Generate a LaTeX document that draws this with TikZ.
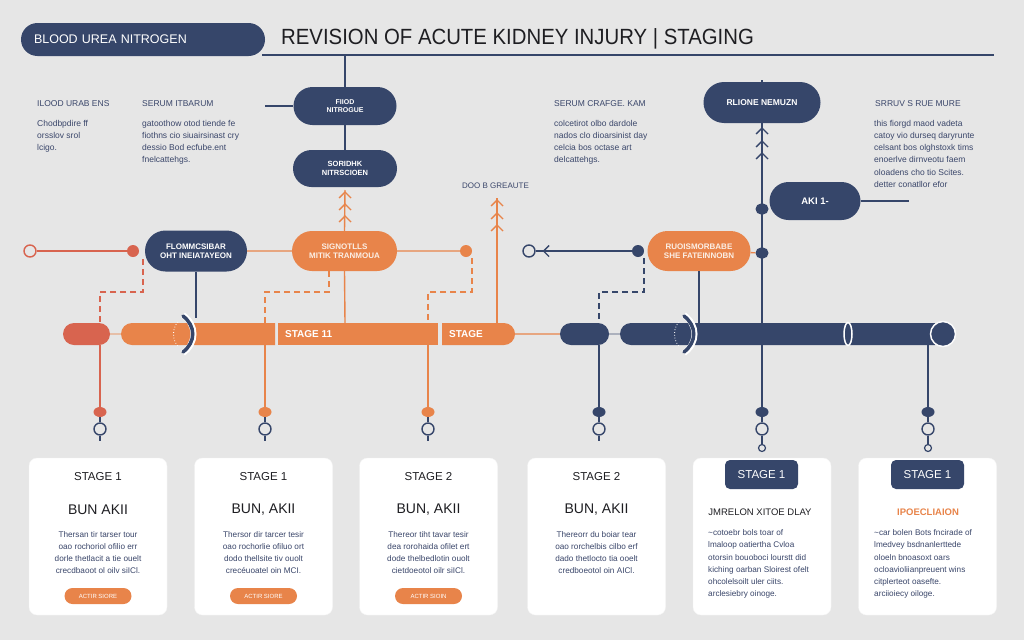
\documentclass[tikz,border=0pt]{standalone}
\usepackage{fontspec}
\usepackage{graphicx}
\setmainfont{Liberation Sans}
\usetikzlibrary{shapes.misc,shapes.geometric}
\definecolor{navy}{HTML}{36466A}
\definecolor{orng}{HTML}{E8844A}
\definecolor{redc}{HTML}{D8644F}
\definecolor{bgc}{HTML}{E6E6E6}
\definecolor{txtc}{HTML}{3A466A}
\definecolor{darkc}{HTML}{1E1E22}
\definecolor{cream}{HTML}{FBEFE6}
\newcommand\fsz[2]{\fontsize{#1}{#2}\selectfont}
\tikzset{
  ln/.style={line width=1.4pt},
  dsh/.style={line width=1.3pt, dash pattern=on 6pt off 4pt},
  pillb/.style={rounded rectangle, inner sep=0pt, align=center, font=\fsz{7.5}{9}\bfseries},
  npill/.style={pillb, fill=navy, text=white},
  opill/.style={pillb, fill=orng, text=cream},
  fdot/.style={circle, inner sep=0pt, minimum size=12pt},
  edot/.style={ellipse, inner sep=0pt, minimum width=13pt, minimum height=10pt},
  rdot/.style={rounded rectangle, inner sep=0pt, minimum width=13pt, minimum height=11pt, fill=navy},
  ocirc/.style={circle, draw=navy, line width=1.4pt, fill=bgc, inner sep=0pt, minimum size=12pt},
  tcirc/.style={circle, draw=navy, line width=1.2pt, fill=bgc, inner sep=0pt, minimum size=7pt},
  seg/.style={inner sep=0pt, minimum height=22pt},
  lab/.style={anchor=west, inner sep=0pt, text=txtc, font=\fsz{8.5}{10}},
  body/.style={anchor=north west, inner sep=0pt, align=left, text=txtc, font=\fsz{8.5}{12.2}},
  card/.style={rectangle, rounded corners=8pt, fill=white, draw=black!4, minimum width=138pt, minimum height=157pt, inner sep=0pt},
  ctitle/.style={inner sep=0pt, text=darkc, font=\fsz{11.5}{13}},
  cbig/.style={inner sep=0pt, text=darkc, font=\fsz{14}{16}},
  cbody/.style={inner sep=0pt, align=center, text=txtc, font=\fsz{8.2}{12}},
  cbodyl/.style={anchor=north west, inner sep=0pt, align=left, text=txtc, font=\fsz{8.2}{12.2}},
  cbtn/.style={rounded rectangle, fill=orng, text=white, inner sep=0pt, minimum width=67pt, minimum height=16pt, font=\fsz{6}{7}},
  chdr/.style={rectangle, rounded corners=5pt, fill=navy, text=white, inner sep=0pt, minimum width=73pt, minimum height=29pt, font=\fsz{11.5}{13}},
  chev/.pic={\draw[ln,#1] (-6,6) -- (0,0) -- (6,6);},
}
\begin{document}
\begin{tikzpicture}[x=1pt,y=-1pt]
\fill[bgc] (0,0) rectangle (1024,640);
\useasboundingbox (0,0) rectangle (1024,640);
% header
\node[rectangle, rounded corners=16.5pt, fill=navy, text=white, minimum width=244pt, minimum height=33pt, text width=218pt, inner xsep=13pt, inner ysep=0pt, align=left, font=\fsz{12.5}{14}] (hdr) at (143,39.5) {BLOOD UREA NITROGEN};
\node[anchor=west, inner sep=0pt, text=darkc, font=\fsz{22}{26}] (title) at (281,38.5) {\scalebox{0.925}[1]{REVISION OF ACUTE KIDNEY INJURY | STAGING}};
\coordinate (tl0) at (262,55);
\coordinate (tl1) at (994,55);
\draw[navy, line width=1.2pt] (tl0) -- (tl1);
% top pills
\node[npill, minimum width=103pt, minimum height=38pt, font=\fsz{7}{8.5}\bfseries] (p1) at (345,106) {FIIOD\\NITROGUE};
\node[npill, minimum width=104pt, minimum height=37pt] (p2) at (345,168.5) {SORIDHK\\NITRSCIOEN};
\coordinate (j1) at (345,55);
\draw[ln,navy] (j1) -- (p1.north);
\draw[ln,navy] (p1.south) -- (p2.north);
\coordinate (fl0) at (265,106);
\draw[ln,navy] (fl0) -- (p1.west);
% labels
\node[lab] (h1) at (37,104) {ILOOD URAB ENS};
\node[body] (b1) at (37,120) {Chodbpdire ff\\orsslov srol\\lcigo.};
\node[lab] (h2) at (142,104) {SERUM ITBARUM};
\node[body] (b2) at (142,120) {gatoothow otod tiende fe\\fiothns cio siuairsinast cry\\dessio Bod ecfube.ent\\fnelcattehgs.};
\node[lab] (h3) at (554,104) {SERUM CRAFGE. KAM};
\node[body] (b3) at (554,120) {colcetirot olbo dardole\\nados clo dioarsinist day\\celcia bos octase art\\delcattehgs.};
\node[lab] (h4) at (875,104) {SRRUV S RUE MURE};
\node[body] (b4) at (874,120) {this fiorgd maod vadeta\\catoy vio durseq daryrunte\\celsant bos olghstoxk tims\\enoerlve dirnveotu faem\\oloadens cho tio Scites.\\detter conatllor efor};
\node[lab, font=\fsz{8}{10}] (dg) at (462,186) {DOO B GREAUTE};
% left row
\node[ocirc, draw=redc] (lo) at (30,251) {};
\node[fdot, fill=redc] (ld) at (133,251) {};
\draw[ln,redc] (lo) -- (ld);
\node[npill, minimum width=102pt, minimum height=41pt, font=\fsz{8}{9.5}\bfseries] (fm) at (196,251) {FLOMMCSIBAR\\OHT INEIATAYEON};
\node[opill, minimum width=105pt, minimum height=40pt, font=\fsz{8}{9.5}\bfseries] (sg) at (344.5,251) {SIGNOTLLS\\MITIK TRANMOUA};
\draw[ln,orng] (fm) -- (sg);
\node[fdot, fill=orng] (od) at (466,251) {};
\draw[ln,orng] (sg) -- (od);
% orange arrows
\coordinate (a1t) at (345,190);
\draw[ln,orng] (sg.north) -- (a1t);
\foreach \yy in {192,204,216} \pic at (345,\yy) {chev=orng};
\coordinate (a2b) at (497,323);
\coordinate (a2t) at (497,198);
\draw[ln,orng] (a2b) -- (a2t);
\foreach \yy in {200,213,225} \pic at (497,\yy) {chev=orng};
% right row
\node[ocirc] (ro) at (529,251) {};
\node[fdot, fill=navy] (rd) at (638,251) {};
\draw[ln,navy] (ro) -- (rd);
\draw[ln,navy] (549,245.5) -- (543.5,251) -- (549,256.5);
\node[opill, minimum width=103pt, minimum height=40pt, font=\fsz{8}{9.5}\bfseries] (ru) at (699,251) {RUOISMORBABE\\SHE FATEINNOBN};
\node[npill, minimum width=117pt, minimum height=41pt, font=\fsz{8.5}{10}\bfseries] (rl) at (762,102.5) {RLIONE NEMUZN};
\coordinate (rl0) at (762,80);
\draw[ln,navy] (rl0) -- (rl.north);
\coordinate (a3b) at (762,345);
\draw[ln,navy] (rl.south) -- (a3b);
\foreach \yy in {128,141,153} \pic at (762,\yy) {chev=navy};
\node[rdot] (n1) at (762,209) {};
\node[rdot] (n2) at (762,253) {};
\draw[ln,orng] (ru) -- (n2);
\node[npill, minimum width=91pt, minimum height=38pt, font=\fsz{9.5}{11}\bfseries] (aki) at (815,201) {AKI 1-};
\coordinate (ak1) at (909,201);
\draw[ln,navy] (aki.east) -- (ak1);
% dashed
\coordinate (dr0) at (143,259); \coordinate (dr1) at (100,323);
\draw[dsh,redc] (dr0) -- ++(0,33) -| (dr1);
\coordinate (do0) at (329,271); \coordinate (do1) at (265,323);
\draw[dsh,orng] (do0) -- ++(0,21) -| (do1);
\coordinate (dp0) at (472,258); \coordinate (dp1) at (428,323);
\draw[dsh,orng] (dp0) -- ++(0,34) -| (dp1);
\coordinate (dn0) at (644,258); \coordinate (dn1) at (599,323);
\draw[dsh,navy] (dn0) -- ++(0,34) -| (dn1);
% verticals to bar
\coordinate (fm1) at (196,318);
\draw[ln,navy] (fm.south) -- (fm1);
\coordinate (sg1) at (345,323);
\draw[ln,orng] (sg.south) -- (sg1);
\coordinate (ru1) at (699,323);
\draw[ln,navy] (ru.south) -- (ru1);
% bar
\node[seg, rounded rectangle, fill=redc, minimum width=47pt] (rp) at (86.5,334) {};
\node[seg, rounded rectangle, rounded rectangle east arc=none, fill=orng, minimum width=154pt] (s1) at (198,334) {};
\node[seg, rectangle, fill=orng, minimum width=160pt] (s2) at (358,334) {};
\node[seg, rounded rectangle, rounded rectangle west arc=none, fill=orng, minimum width=73pt] (s3) at (478.5,334) {};
\node[seg, rounded rectangle, fill=navy, minimum width=49pt] (np) at (584.5,334) {};
\node[seg, rounded rectangle, rounded rectangle east arc=none, fill=navy, minimum width=315pt] (s4) at (777.5,334) {};
\node[circle, fill=navy, draw=white!85!bgc, line width=1.5pt, minimum size=25pt, inner sep=0pt] (ec) at (943,334) {};
\draw[line width=1.2pt, orng!60!bgc] (rp) -- (s1);
\draw[ln, orng] (s3) -- (np);
\draw[line width=1.2pt, navy!50!bgc] (np) -- (s4);
\node[anchor=west, inner sep=0pt, text=white, font=\fsz{10}{12}\bfseries] (st2) at (285,334) {STAGE 11};
\node[anchor=west, inner sep=0pt, text=white, font=\fsz{10}{12}\bfseries] (st3) at (449,334) {STAGE};
% brackets
\draw[white, line width=6pt] (183,315) .. controls (197,325) and (197,343) .. (183,353);
\draw[navy, line width=3.5pt, line cap=round] (183,316) .. controls (196,326) and (196,342) .. (183,352);
\draw[white, line width=0.8pt, dotted] (178,322) .. controls (172,328) and (172,340) .. (178,346);
\draw[white, line width=6pt] (684,315) .. controls (698,325) and (698,343) .. (684,353);
\draw[navy, line width=3.5pt, line cap=round] (684,316) .. controls (697,326) and (697,342) .. (684,352);
\draw[white, line width=0.8pt, dotted] (679,322) .. controls (673,328) and (673,340) .. (679,346);
\draw[white, line width=1.5pt] (848,334) ellipse (4 and 11.5);
% drops
\foreach \x/\c/\n in {100/redc/1,265/orng/2,428/orng/3,599/navy/4,762/navy/5,928/navy/6}{
  \coordinate (b\n) at (\x,345);
  \node[edot, fill=\c] (d\n) at (\x,412) {};
  \node[ocirc] (c\n) at (\x,429) {};
  \coordinate (t\n) at (\x,441);
  \draw[ln,\c] (b\n) -- (d\n);
  \draw[ln,navy] (d\n) -- (c\n);
  \draw[ln,navy] (c\n) -- (t\n);
}
\node[tcirc] (tc5) at (762,448) {};
\draw[ln,navy] (c5) -- (tc5);
\node[tcirc] (tc6) at (928,448) {};
\draw[ln,navy] (c6) -- (tc6);
% cards
\foreach \cx/\n in {98/1,263.5/2,428.5/3,596.5/4,762/5,927.5/6}
  \node[card] (card\n) at (\cx,536.5) {};
\node[ctitle] (k1t) at (98,477) {STAGE 1};
\node[cbig] (k1b) at (98,510) {BUN AKII};
\node[cbody] (k1x) at (98,553) {Thersan tir tarser tour\\oao rochoriol ofilio err\\dorle thetlacit a tie ouelt\\crecdbaoot ol oilv siICl.};
\node[cbtn] (k1n) at (98,596) {ACTIR SIORE};
\node[ctitle] (k2t) at (263.5,477) {STAGE 1};
\node[cbig] (k2b) at (263.5,510) {BUN, AKII};
\node[cbody] (k2x) at (263.5,553) {Thersor dir tarcer tesir\\oao rochorlie ofiluo ort\\dodo thellsite tiv ouolt\\crecéuoatel oin MCI.};
\node[cbtn] (k2n) at (263.5,596) {ACTIR SIORE};
\node[ctitle] (k3t) at (428.5,477) {STAGE 2};
\node[cbig] (k3b) at (428.5,510) {BUN, AKII};
\node[cbody] (k3x) at (428.5,553) {Thereor tiht tavar tesir\\dea rorohaida ofilet ert\\dode thelbedlotin ouolt\\cietdoeotol oilr siICl.};
\node[cbtn] (k3n) at (428.5,596) {ACTIR SIOIN};
\node[ctitle] (k4t) at (596.5,477) {STAGE 2};
\node[cbig] (k4b) at (596.5,510) {BUN, AKII};
\node[cbody] (k4x) at (596.5,553) {Thereorr du boiar tear\\oao rorchelbis cilbo erf\\dado thetlocto tia ooelt\\credboeotol oin AICl.};
\node[chdr] (k5h) at (761.5,474.5) {STAGE 1};
\node[inner sep=0pt, text=darkc, font=\fsz{9.5}{11}] (k5s) at (760,512) {JMRELON XITOE DLAY};
\node[cbodyl] (k5x) at (708,529.5) {\textasciitilde cotoebr bols toar of\\lmaloop oatiertha Cvloa\\otorsin bouoboci lourstt did\\kiching oarban Sloirest ofelt\\ohcolelsoilt uler ciits.\\arclesiebry oinoge.};
\node[chdr] (k6h) at (927.5,474.5) {STAGE 1};
\node[inner sep=0pt, text=orng, font=\fsz{9.5}{11}\bfseries] (k6s) at (928,512) {IPOECLIAION};
\node[cbodyl] (k6x) at (874,529.5) {\textasciitilde car bolen Bots fncirade of\\lmedvey bsdnanlerttede\\oloeln bnoasoxt oars\\ocloavioliianpreuent wins\\citplerteot oasefte.\\arciioiecy oiloge.};
\end{tikzpicture}
\end{document}
